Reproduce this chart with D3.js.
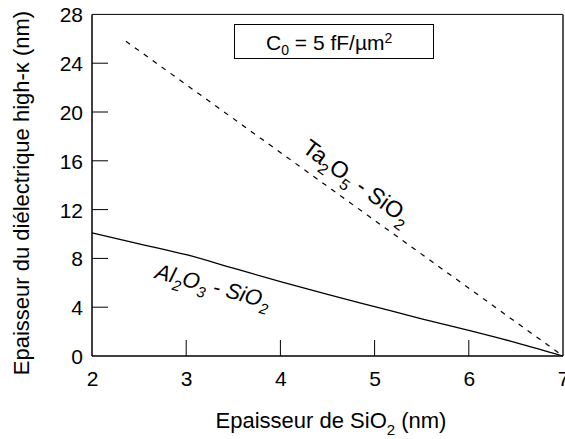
<!DOCTYPE html>
<html><head><meta charset="utf-8">
<script src="https://cdn.jsdelivr.net/npm/d3@7"></script>
<style>
body{margin:0;background:#fff;}
svg{display:block;font-family:"Liberation Sans",Arial,sans-serif;}
</style></head>
<body><svg id="c" width="565" height="439"></svg>
<script>
const xTicks = [2, 3, 4, 5, 6, 7];
const yTicks = [0, 4, 8, 12, 16, 20, 24, 28];
const taX = [2.36, 7];
const taY = [25.8, 0];
const alX = [2, 2.5, 3, 3.5, 4, 4.5, 5, 5.5, 6, 6.5, 7];
const alY = [10.1, 9.2, 8.3, 7.2, 6.1, 5.05, 4.05, 3.05, 2.1, 1.1, 0];

const svg = d3.select("#c");
const L = 92, R = 563, T = 14.4, B = 356;
const x = d3.scaleLinear().domain([2, 7]).range([L, R]);
const y = d3.scaleLinear().domain([0, 28]).range([B, T]);

const xa = svg.append("g").attr("transform", `translate(0,${B})`)
  .call(d3.axisBottom(x).tickValues(xTicks).tickSize(0).tickPadding(15).tickFormat(d3.format("d")));
const ya = svg.append("g").attr("transform", `translate(${L},0)`)
  .call(d3.axisLeft(y).tickValues(yTicks).tickSize(0).tickPadding(9).tickFormat(d3.format("d")));
[xa, ya].forEach(a => {
  a.select(".domain").remove();
  a.selectAll("text").attr("font-size", 21).attr("fill", "#000").attr("font-family", "Liberation Sans, Arial, sans-serif");
});
xa.selectAll("text").attr("dy", "0.71em");
ya.selectAll("text").attr("dy", "0.36em");

svg.append("g").selectAll("line").data(xTicks.filter(d => d > 2 && d < 7)).join("line")
  .attr("x1", d => x(d)).attr("x2", d => x(d)).attr("y1", B).attr("y2", B - 16)
  .attr("stroke", "#000").attr("stroke-width", 1);
svg.append("g").selectAll("line").data(yTicks.filter(d => d > 0 && d < 28)).join("line")
  .attr("x1", L).attr("x2", L + 16).attr("y1", d => y(d)).attr("y2", d => y(d))
  .attr("stroke", "#000").attr("stroke-width", 1);

svg.append("line").attr("x1", L).attr("x2", R).attr("y1", T).attr("y2", T).attr("stroke", "#000").attr("stroke-width", 1);
svg.append("line").attr("x1", R).attr("x2", R).attr("y1", T).attr("y2", B).attr("stroke", "#555").attr("stroke-width", 2);
svg.append("line").attr("x1", L).attr("x2", R).attr("y1", B).attr("y2", B).attr("stroke", "#000").attr("stroke-width", 1.5);
svg.append("line").attr("x1", L).attr("x2", L).attr("y1", T).attr("y2", B).attr("stroke", "#000").attr("stroke-width", 1.5);

const line = d3.line().x(d => x(d[0])).y(d => y(d[1])).curve(d3.curveMonotoneX);
svg.append("path").datum(taX.map((v, i) => [v, taY[i]])).attr("d", line)
  .attr("fill", "none").attr("stroke", "#000").attr("stroke-width", 1.2).attr("stroke-dasharray", "5,6");
svg.append("path").datum(alX.map((v, i) => [v, alY[i]])).attr("d", line)
  .attr("fill", "none").attr("stroke", "#000").attr("stroke-width", 1.3);

function chem(sel, parts, size) {
  let pending = 0;
  parts.forEach(p => {
    if (p.sub) {
      sel.append("tspan").attr("font-size", size * 0.68).attr("dy", size * 0.3 - pending).text(p.t);
      pending = size * 0.3;
    } else {
      const ts = sel.append("tspan").text(p.t);
      if (pending) ts.attr("dy", -pending);
      pending = 0;
    }
  });
}

svg.append("rect").attr("x", 234.5).attr("y", 24.5).attr("width", 199).attr("height", 34)
  .attr("fill", "none").attr("stroke", "#000").attr("stroke-width", 1);
const bt = svg.append("text").attr("x", 266).attr("y", 49.5).attr("font-size", 21);
bt.append("tspan").text("C");
bt.append("tspan").attr("font-size", 14).attr("dy", 5).text("0");
bt.append("tspan").attr("dy", -5).text(" = 5 fF/µm");
bt.append("tspan").attr("font-size", 14).attr("dy", -7).text("2");

const t1 = svg.append("text").attr("font-size", 23)
  .attr("transform", "translate(301,151) rotate(36)");
chem(t1, [{t: "Ta"}, {t: "2", sub: true}, {t: "O"}, {t: "5", sub: true}, {t: " - SiO"}, {t: "2", sub: true}], 23);

const t2 = svg.append("text").attr("font-size", 22).attr("font-style", "italic")
  .attr("transform", "translate(154,278) rotate(15)");
chem(t2, [{t: "Al"}, {t: "2", sub: true}, {t: "O"}, {t: "3", sub: true}, {t: " - SiO"}, {t: "2", sub: true}], 22);

const xt = svg.append("text").attr("x", 331).attr("y", 428).attr("text-anchor", "middle").attr("font-size", 22);
chem(xt, [{t: "Epaisseur de SiO"}, {t: "2", sub: true}, {t: " (nm)"}], 22);
svg.append("text").attr("transform", "translate(29,193) rotate(-90)").attr("text-anchor", "middle")
  .attr("font-size", 22).text("Epaisseur du diélectrique high-κ (nm)");
</script></body></html>
